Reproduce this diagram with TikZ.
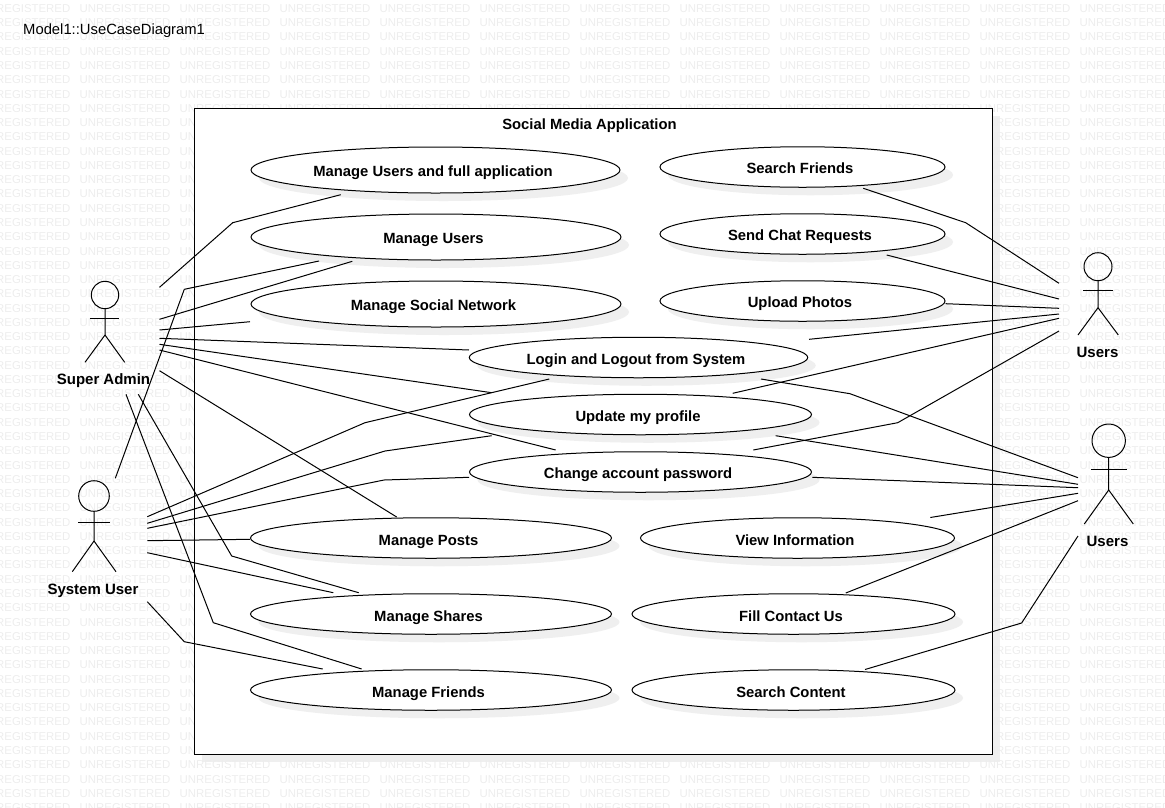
\documentclass[tikz,border=0pt]{standalone}
\usepackage{fontspec}
\setmainfont{Liberation Sans}
\usetikzlibrary{shapes.geometric,shadows}
\definecolor{shadegray}{HTML}{EFEFEF}
\definecolor{wmgray}{HTML}{EDEDED}
\tikzset{
  usecase/.style={ellipse,draw,line width=1pt,fill=white,inner sep=0pt,text height=13.8pt,text depth=0.2pt,
    font=\fontsize{14.8}{18}\selectfont\bfseries,execute at end node={\hspace{5pt}},
    drop shadow={shadow xshift=8pt,shadow yshift=-8pt,fill=shadegray,opacity=1}},
  lowrow/.style={usecase,text height=15.8pt},
  assoc/.style={line width=1pt,line join=miter},
  stick/.style={line width=1pt},
  actorhead/.style={circle,draw,line width=1pt,inner sep=0pt},
  actorlabel/.style={inner sep=0pt,font=\fontsize{15}{18}\selectfont\bfseries},
  wmark/.style={inner sep=0pt,text=wmgray,font=\fontsize{11.4}{13}\selectfont},
}

\begin{document}
\begin{tikzpicture}[x=1pt,y=-1pt]
\useasboundingbox (0,0) rectangle (1165,807);

\node[fill=shadegray,inner sep=0pt,minimum width=798pt,minimum height=646pt] (syshade) at (601,439) {};
\foreach \r in {0,...,56}
  \foreach \c in {0,...,11}
    \node[wmark] (w\r-\c) at ({25+100*\c},{8.5+14.27*\r}) {UNREGISTERED};

\node[inner sep=0pt,anchor=west,font=\fontsize{14.8}{18}\selectfont] (title) at (23,31) {Model1::UseCaseDiagram1};
\node[draw,line width=1pt,fill=white,inner sep=0pt,minimum width=798pt,minimum height=646pt] (system) at (593,431) {};
\node[inner sep=0pt,font=\fontsize{14.8}{18}\selectfont\bfseries] (systitle) at (589.5,126) {Social Media Application};

% left column
\node[usecase,minimum width=369pt,minimum height=46pt] (full) at (435.5,170) {Manage Users and full application};
\node[usecase,minimum width=370pt,minimum height=46pt] (users) at (436,237) {Manage Users};
\node[usecase,minimum width=370pt,minimum height=46pt] (social) at (436,304) {Manage Social Network};
\node[lowrow,minimum width=361pt,minimum height=40.5pt] (posts) at (431,538) {Manage Posts};
\node[lowrow,minimum width=361pt,minimum height=40.5pt] (shares) at (431,614) {Manage Shares};
\node[lowrow,minimum width=361pt,minimum height=40.5pt] (friends) at (431,690) {Manage Friends};

% right column
\node[usecase,minimum width=285pt,minimum height=40.5pt] (search) at (802.5,167) {Search Friends};
\node[usecase,minimum width=285pt,minimum height=40.5pt] (chat) at (802.5,234) {Send Chat Requests};
\node[usecase,minimum width=285pt,minimum height=40.5pt] (photos) at (802.5,301) {Upload Photos};
\node[lowrow,minimum width=314pt,minimum height=40.5pt] (info) at (797.5,538) {View Information};
\node[lowrow,minimum width=323pt,minimum height=40.5pt] (contact) at (793.5,614) {Fill Contact Us};
\node[lowrow,minimum width=323pt,minimum height=40.5pt] (content) at (793.5,690) {Search Content};

% middle
\node[usecase,minimum width=338.5pt,minimum height=40.5pt] (login) at (638.5,357.5) {Login and Logout from System};
\node[usecase,minimum width=342pt,minimum height=40.5pt] (profile) at (640.5,414.5) {Update my profile};
\node[usecase,minimum width=342pt,minimum height=40.5pt] (password) at (640.5,472) {Change account password};

% actors
\node[actorhead,minimum size=27.4pt] (admin) at (105,295) {};
\draw[stick] (admin.south) -- (105,335) -- (85,362.3);
\draw[stick] (105,335) -- (124.7,362.3);
\draw[stick] (90,318.3) -- (119,318.3);
\node[actorlabel] (adminlabel) at (103.5,381) {Super Admin};

\node[actorhead,minimum size=30.6pt] (sysuser) at (94,496) {};
\draw[stick] (sysuser.south) -- (94,541) -- (72.3,571.7);
\draw[stick] (94,541) -- (116,571.7);
\draw[stick] (78,522.3) -- (110,522.3);
\node[actorlabel] (sysuserlabel) at (93,591) {System User};

\node[actorhead,minimum size=28pt] (userA) at (1098,266.7) {};
\draw[stick] (userA.south) -- (1098,307.7) -- (1078,335);
\draw[stick] (1098,307.7) -- (1118.3,335);
\draw[stick] (1083,290.7) -- (1113,290.7);
\node[actorlabel] (userAlabel) at (1097.5,352.5) {Users};

\node[actorhead,minimum size=33.4pt] (userB) at (1108.7,440.7) {};
\draw[stick] (userB.south) -- (1108.7,490) -- (1084.3,524);
\draw[stick] (1108.7,490) -- (1133.3,524);
\draw[stick] (1091,469.3) -- (1127,469.3);
\node[actorlabel] (userBlabel) at (1107.5,541.5) {Users};

% free ends
\coordinate (sa1) at (159.5,287.3);  \coordinate (full1) at (340.7,194.7);
\coordinate (su0) at (115.3,478.3);  \coordinate (users0) at (319,261);
\coordinate (sa2) at (159.5,319.3);  \coordinate (users1) at (352.3,261.3);
\coordinate (sa3) at (159.5,330);    \coordinate (social1) at (250,321.7);
\coordinate (sa4) at (159.5,338.3);  \coordinate (login1) at (469,350);
\coordinate (sa5) at (159.5,344.3);  \coordinate (profile1) at (491.7,392.7);
\coordinate (sa6) at (159.5,350);    \coordinate (password1) at (555.7,450);
\coordinate (sa7) at (159.5,370.7);  \coordinate (posts1) at (396.7,517);
\coordinate (sa8) at (138.3,394.3);  \coordinate (shares1) at (358.7,592.7);
\coordinate (sa9) at (126,394.3);    \coordinate (friends1) at (361.7,669);
\coordinate (su1) at (147.3,516.7);  \coordinate (login2) at (549.3,379);
\coordinate (su2) at (147.3,523.3);  \coordinate (profile2) at (491.7,435.7);
\coordinate (su3) at (147.3,528.3);  \coordinate (password2) at (469,477.3);
\coordinate (su4) at (147.3,540.7);  \coordinate (posts2) at (250,539.3);
\coordinate (su5) at (147.3,552.7);  \coordinate (shares2) at (333.3,592.7);
\coordinate (su6) at (147.3,601.7);  \coordinate (friends2) at (322.7,669);
\coordinate (ua1) at (1059,283.3);   \coordinate (search1) at (863.3,188.3);
\coordinate (ua2) at (1059,299);     \coordinate (chat1) at (886.7,255);
\coordinate (ua3) at (1059,308.3);   \coordinate (photos1) at (945.7,303.7);
\coordinate (ua4) at (1059,314);     \coordinate (login3) at (809,339.3);
\coordinate (ua5) at (1059,318.3);   \coordinate (profile3) at (732.7,393.3);
\coordinate (ua6) at (1059,331);     \coordinate (password3) at (753.3,450);
\coordinate (ub1) at (1078,477.7);   \coordinate (login4) at (761,379);
\coordinate (ub2) at (1078,484.3);   \coordinate (profile4) at (775.7,435.7);
\coordinate (ub3) at (1078,487.7);   \coordinate (password4) at (812.3,477.3);
\coordinate (ub4) at (1078,493.3);   \coordinate (info1) at (930.3,517.5);
\coordinate (ub5) at (1078,500.7);   \coordinate (contact1) at (845.8,593);
\coordinate (ub6) at (1078,536);     \coordinate (content1) at (865,669.5);

% Super Admin
\draw[assoc] (sa1) -- (232.7,222.7) -- (full1);
\draw[assoc] (sa2) -- (users1);
\draw[assoc] (sa3) -- (social1);
\draw[assoc] (sa4) -- (login1);
\draw[assoc] (sa5) -- (profile1);
\draw[assoc] (sa6) -- (password1);
\draw[assoc] (sa7) -- (posts1);
\draw[assoc] (sa8) -- (231.7,556) -- (shares1);
\draw[assoc] (sa9) -- (213.3,622.7) -- (friends1);

% System User
\draw[assoc] (su0) -- (184.3,289.3) -- (users0);
\draw[assoc] (su1) -- (365,422.7) -- (login2);
\draw[assoc] (su2) -- (385,451) -- (profile2);
\draw[assoc] (su3) -- (384,480) -- (password2);
\draw[assoc] (su4) -- (posts2);
\draw[assoc] (su5) -- (shares2);
\draw[assoc] (su6) -- (184.3,641.7) -- (friends2);

% Users
\draw[assoc] (search1) -- (965.7,222.7) -- (ua1);
\draw[assoc] (chat1) -- (ua2);
\draw[assoc] (photos1) -- (ua3);
\draw[assoc] (login3) -- (ua4);
\draw[assoc] (profile3) -- (ua5);
\draw[assoc] (password3) -- (897.7,422.7) -- (ua6);
\draw[assoc] (login4) -- (850,393.7) -- (ub1);
\draw[assoc] (profile4) -- (ub2);
\draw[assoc] (password4) -- (ub3);
\draw[assoc] (info1) -- (ub4);
\draw[assoc] (contact1) -- (ub5);
\draw[assoc] (content1) -- (1021.6,623) -- (ub6);

\end{tikzpicture}
\end{document}
